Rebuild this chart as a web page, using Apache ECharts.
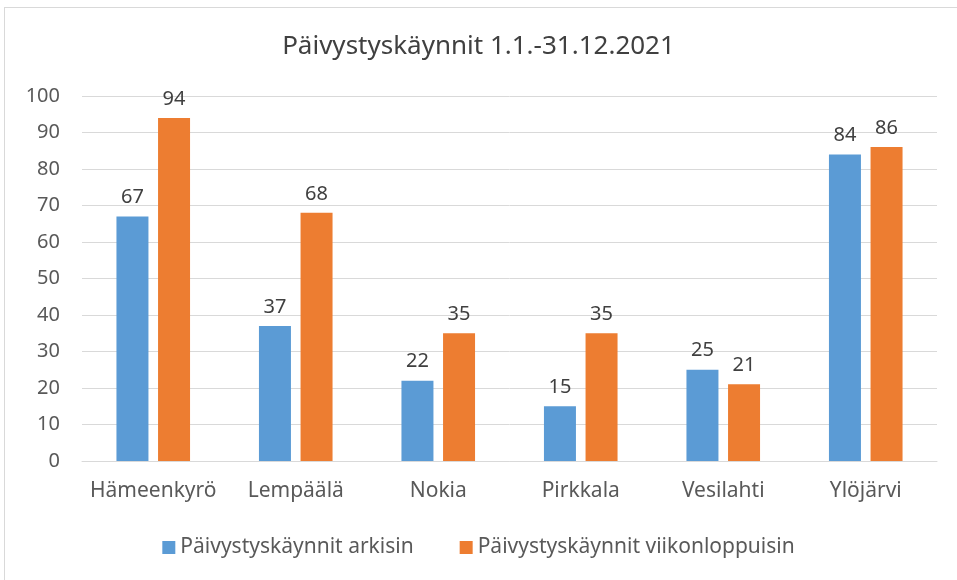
<!DOCTYPE html>
<html>
<head>
<meta charset="utf-8">
<script src="https://cdn.jsdelivr.net/npm/echarts@6/dist/echarts.min.js"></script>
<style>
  html, body { margin: 0; padding: 0; background: #fff; }
  #frame { position: absolute; left: 4px; top: 7px; width: 960px; height: 580px; border: 1px solid #d9d9d9; box-sizing: border-box; }
  #chart { position: absolute; left: 0; top: 0; width: 957px; height: 580px; }
</style>
</head>
<body>
<div id="frame"></div>
<div id="chart"></div>
<script>
// data
var categories = ['Hämeenkyrö', 'Lempäälä', 'Nokia', 'Pirkkala', 'Vesilahti', 'Ylöjärvi']
var arkisin = [67, 37, 22, 15, 25, 84]
var viikonloppuisin = [94, 68, 35, 35, 21, 86]
var seriesNames = ['Päivystyskäynnit arkisin', 'Päivystyskäynnit viikonloppuisin']

var font = '"Noto Sans", sans-serif'
var labelStyle = {
  show: true,
  position: 'top',
  distance: 9,
  color: '#404040',
  fontSize: 20,
  fontFamily: font
}

var option = {
  backgroundColor: 'transparent',
  animation: false,
  title: {
    text: 'Päivystyskäynnit 1.1.-31.12.2021',
    left: 'center',
    top: 29,
    textStyle: { color: '#404040', fontSize: 26, fontWeight: 'normal', fontFamily: font }
  },
  legend: {
    bottom: 17,
    left: 'center',
    itemWidth: 13,
    itemHeight: 13,
    itemGap: 46,
    itemStyle: { borderWidth: 0 },
    icon: 'rect',
    textStyle: { color: '#595959', fontSize: 21, fontFamily: font }
  },
  grid: {
    left: 82,
    right: 20,
    top: 96,
    bottom: 119
  },
  xAxis: {
    type: 'category',
    data: categories,
    axisLine: { lineStyle: { color: '#d9d9d9', width: 1 } },
    axisTick: { show: false },
    axisLabel: { interval: 0, color: '#595959', fontSize: 21, fontFamily: font, margin: 20 }
  },
  yAxis: {
    type: 'value',
    min: 0,
    max: 100,
    interval: 10,
    axisLine: { show: false },
    axisTick: { show: false },
    splitLine: { lineStyle: { color: '#d9d9d9', width: 1 } },
    axisLabel: { color: '#595959', fontSize: 20, fontFamily: font, margin: 22 }
  },
  series: [
    {
      name: seriesNames[0],
      type: 'bar',
      data: arkisin,
      barWidth: 32,
      barGap: '30%',
      itemStyle: { color: '#5b9bd5' },
      label: labelStyle
    },
    {
      name: seriesNames[1],
      type: 'bar',
      data: viikonloppuisin,
      barWidth: 32,
      itemStyle: { color: '#ed7d31' },
      label: labelStyle
    }
  ]
}

var myChart = echarts.init(document.getElementById('chart'))
myChart.setOption(option)
</script>
</body>
</html>
